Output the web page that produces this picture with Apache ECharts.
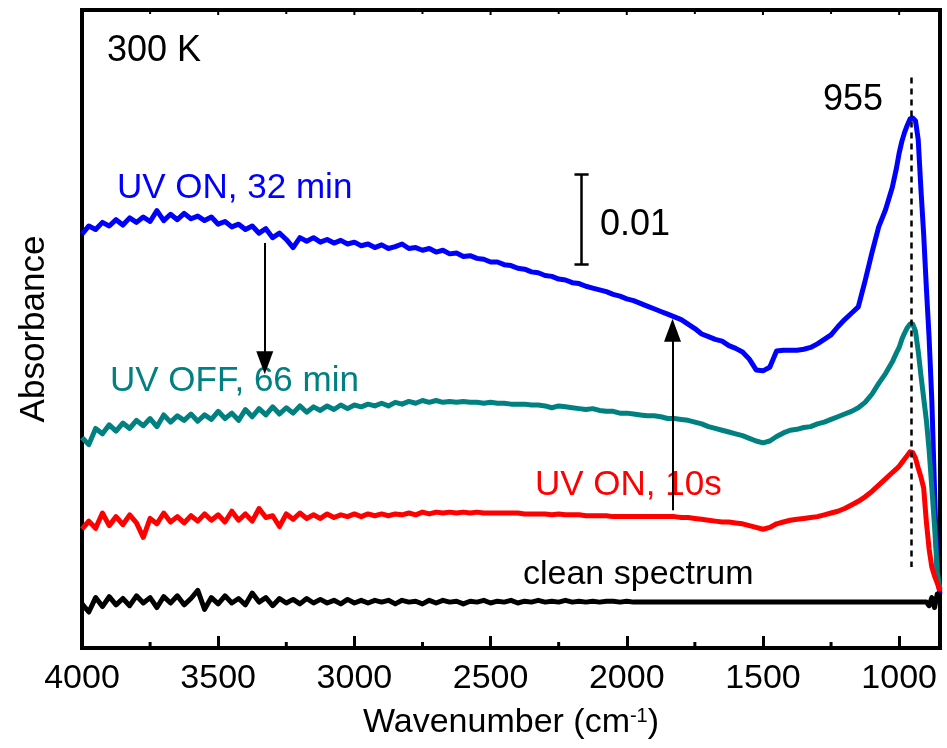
<!DOCTYPE html>
<html>
<head>
<meta charset="utf-8">
<script src="https://cdn.jsdelivr.net/npm/echarts@6/dist/echarts.min.js"></script>
<style>
  html, body { margin: 0; padding: 0; background: #fff; }
  #chart { width: 947px; height: 748px; }
</style>
</head>
<body>
<div id="chart"></div>
<script>
// wavenumber grid (cm-1), dense near the 955 peak
var wavenumber = [
  4000, 3975, 3950, 3925, 3900, 3875, 3850, 3825, 3800, 3775,
  3750, 3725, 3700, 3675, 3650, 3625, 3600, 3575, 3550, 3525,
  3500, 3475, 3450, 3425, 3400, 3375, 3350, 3325, 3300, 3275,
  3250, 3225, 3200, 3175, 3150, 3125, 3100, 3075, 3050, 3025,
  3000, 2975, 2950, 2925, 2900, 2875, 2850, 2825, 2800, 2775,
  2750, 2725, 2700, 2675, 2650, 2625, 2600, 2575, 2550, 2525,
  2500, 2475, 2450, 2425, 2400, 2375, 2350, 2325, 2300, 2275,
  2250, 2225, 2200, 2175, 2150, 2125, 2100, 2075, 2050, 2025,
  2000,
  1975, 1950, 1925, 1900, 1875, 1850, 1825, 1800, 1775, 1750,
  1725, 1700, 1675, 1650, 1625, 1600, 1575, 1550, 1525, 1500,
  1475, 1450, 1425, 1400, 1375, 1350, 1325, 1300, 1275, 1250,
  1225, 1200, 1175, 1150, 1125, 1100, 1075, 1050, 1025,
  1010, 1000, 990, 980, 970, 960, 955, 950, 940, 930, 920, 910, 900, 890, 880, 870, 860, 850
];

// absorbance in units of 0.001 (offset traces as plotted)
var uvOn32 = [
  46.0, 46.9, 46.5, 47.3, 46.9, 47.6, 47.0, 47.8, 47.3, 47.9,
  47.4, 48.6, 47.5, 48.2, 47.6, 48.3, 47.7, 48.0, 47.5, 47.9,
  47.1, 47.4, 46.8, 47.1, 46.5, 46.9, 46.1, 46.6, 45.6, 46.1,
  45.4, 44.5, 45.6, 45.2, 45.6, 45.1, 45.4, 45.0, 45.3, 44.9,
  45.1, 44.7, 44.9, 44.5, 44.8, 44.4, 44.6, 44.9, 44.4, 44.5,
  44.2, 44.4, 44.0, 44.2, 43.8, 43.9, 43.5, 43.6, 43.3, 43.2,
  42.9, 42.9, 42.6, 42.5, 42.2, 42.1, 41.8, 41.7, 41.4, 41.3,
  41.0, 40.9, 40.6, 40.5, 40.2, 40.0, 39.8, 39.6, 39.3, 39.1,
  38.8,
  38.6, 38.3, 38.0, 37.7, 37.4, 37.1, 36.8, 36.5, 36.0, 35.5,
  34.9, 34.6, 34.3, 34.1, 33.6, 33.3, 32.9, 32.1, 30.9, 30.8,
  31.2, 33.0, 33.1, 33.1, 33.1, 33.2, 33.4, 33.8, 34.3, 34.8,
  35.7, 36.5, 37.2, 37.9, 40.8, 43.9, 46.8, 48.7, 51.2,
  53.3, 55.0, 56.3, 57.3, 58.1, 58.8, 59.0, 58.9, 58.6, 56.5, 51.0, 46.0, 40.0, 34.5, 27.5, 17.5, 8.0, 6.0
];

var uvOff66 = [
  23.4, 22.6, 24.4, 23.8, 24.8, 24.1, 25.0, 24.4, 25.3, 24.7,
  25.5, 24.6, 25.9, 25.1, 25.8, 25.3, 26.0, 25.2, 25.9, 25.4,
  26.3, 25.5, 26.1, 25.3, 26.5, 25.7, 26.6, 25.9, 26.8, 26.0,
  26.7, 26.1, 26.9, 26.2, 26.8, 26.4, 26.9, 26.5, 27.0, 26.6,
  27.0, 26.8, 27.1, 26.9, 27.2, 26.9, 27.3, 27.1, 27.4, 27.2,
  27.5, 27.3, 27.5, 27.3, 27.4, 27.3, 27.4, 27.3, 27.3, 27.2,
  27.3, 27.2, 27.2, 27.1, 27.1, 27.1, 27.0, 27.0, 26.9, 26.7,
  26.9, 26.8, 26.7, 26.6, 26.5, 26.6, 26.4, 26.3, 26.3, 26.1,
  26.1,
  26.0, 25.9, 25.8, 25.8, 25.7, 25.5, 25.5, 25.4, 25.3, 25.1,
  24.9, 24.6, 24.4, 24.2, 24.0, 23.8, 23.6, 23.3, 23.0, 22.8,
  23.0, 23.5, 23.9, 24.2, 24.3, 24.5, 24.6, 24.9, 25.1, 25.4,
  25.7, 26.0, 26.3, 26.7, 27.3, 28.2, 29.4, 30.5, 31.8,
  32.8, 33.4, 34.3, 35.0, 35.6, 36.0, 36.1, 36.0, 35.2, 33.0, 30.3, 27.8, 25.3, 22.0, 17.8, 13.5, 8.5, 6.5
];

var uvOn10s = [
  13.2, 14.1, 13.3, 15.0, 13.6, 14.6, 13.7, 14.8, 13.9, 12.3,
  14.4, 13.8, 15.0, 14.0, 14.6, 13.9, 14.7, 14.1, 14.9, 14.2,
  14.8, 14.0, 15.2, 14.2, 14.9, 14.1, 15.5, 14.5, 14.7, 13.5,
  14.9, 14.3, 15.0, 14.4, 14.8, 14.4, 14.9, 14.5, 14.8, 14.6,
  14.9, 14.6, 14.9, 14.7, 14.9, 14.7, 14.9, 14.8, 15.0, 14.8,
  15.1, 14.9, 15.1, 15.0, 15.1, 15.0, 15.1, 15.0, 15.1, 15.0,
  15.0, 15.0, 15.0, 15.0, 15.0, 14.9, 14.9, 14.9, 14.9, 14.8,
  14.9, 14.8, 14.8, 14.8, 14.7, 14.7, 14.7, 14.7, 14.6, 14.6,
  14.6,
  14.6, 14.6, 14.6, 14.6, 14.6, 14.6, 14.6, 14.5, 14.5, 14.4,
  14.3, 14.2, 14.1, 14.0, 14.0, 13.9, 13.8, 13.6, 13.4, 13.2,
  13.4, 13.8, 14.0, 14.2, 14.3, 14.4, 14.5, 14.6, 14.8, 15.0,
  15.2, 15.5, 15.9, 16.3, 16.8, 17.4, 18.1, 18.8, 19.5,
  19.9, 20.2, 20.6, 21.0, 21.4, 21.8, 21.9, 21.7, 21.1, 20.0, 19.0, 17.8, 14.0, 11.0, 9.0, 8.0, 7.2, 6.3
];

var clean = [
  4.9, 4.0, 5.6, 4.6, 5.7, 4.8, 5.5, 4.7, 5.8, 5.0,
  5.6, 4.5, 5.7, 5.0, 5.8, 4.8, 5.5, 6.4, 4.3, 5.6,
  4.9, 5.8, 5.0, 5.5, 4.8, 6.1, 5.1, 5.6, 4.7, 5.5,
  5.0, 5.4, 4.9, 5.5, 5.0, 5.4, 5.0, 5.3, 4.9, 5.4,
  5.0, 5.3, 5.0, 5.3, 5.1, 5.3, 4.9, 5.3, 5.1, 5.2,
  4.9, 5.3, 5.0, 5.3, 5.1, 5.2, 4.9, 5.2, 5.1, 5.3,
  5.0, 5.2, 5.1, 5.3, 5.0, 5.2, 5.1, 5.3, 5.1, 5.2,
  5.1, 5.3, 5.1, 5.2, 5.1, 5.2, 5.1, 5.2, 5.2, 5.1,
  5.2,
  5.1, 5.1, 5.1, 5.1, 5.1, 5.1, 5.1, 5.1, 5.1, 5.1,
  5.1, 5.1, 5.1, 5.1, 5.1, 5.1, 5.1, 5.1, 5.1, 5.1,
  5.1, 5.1, 5.1, 5.1, 5.1, 5.1, 5.1, 5.1, 5.1, 5.1,
  5.1, 5.1, 5.1, 5.1, 5.1, 5.1, 5.1, 5.1, 5.1,
  5.1, 5.1, 5.1, 5.1, 5.1, 5.1, 5.1, 5.1, 5.1, 5.1, 5.1, 5.1, 5.1, 4.7, 5.6, 4.5, 6.0, 5.4
];

var majorTicks = [4000, 3500, 3000, 2500, 2000, 1500, 1000];
var minorTicks = [3750, 3250, 2750, 2250, 1750, 1250];

var yMax = 70.9;
var peakPos = 955;
var scaleBar = 10; // 0.01 absorbance

var FONT = "'Liberation Sans', Arial, sans-serif";

function pairs(values) {
    return wavenumber.map(function (w, i) { return [w, values[i]]; });
}

var myChart = echarts.init(document.getElementById('chart'));

function lineSeries(name, values, color) {
    return {
        name: name,
        type: 'line',
        data: pairs(values),
        showSymbol: false,
        symbol: 'none',
        silent: true,
        animation: false,
        lineStyle: { color: color, width: 5, join: 'round' },
        z: 3
    };
}

var solid = function (w) { return { color: '#000', width: w, type: 'solid' }; };

var black = lineSeries('clean spectrum', clean, '#000000');
black.markLine = {
    silent: true,
    animation: false,
    symbol: 'none',
    label: { show: false },
    data: [
        // dashed marker at 955
        [{ coord: [peakPos, 63.4], lineStyle: { color: '#000', width: 2.5, type: [6, 5] } },
         { coord: [peakPos, 9.0] }],
        // down arrow
        [{ coord: [3329, 45.0], symbol: 'none', lineStyle: solid(2) },
         { coord: [3329, 31.7], symbol: 'triangle', symbolSize: [17, 23] }],
        // up arrow
        [{ coord: [1832, 15.3], symbol: 'none', lineStyle: solid(2) },
         { coord: [1832, 35.3], symbol: 'triangle', symbolSize: [17, 23] }],
        // scale bar
        [{ coord: [2166, 42.6], lineStyle: solid(2.5) }, { coord: [2166, 42.6 + scaleBar] }],
        [{ coord: [2192, 42.6 + scaleBar], lineStyle: solid(2.5) }, { coord: [2140, 42.6 + scaleBar] }],
        [{ coord: [2192, 42.6], lineStyle: solid(2.5) }, { coord: [2140, 42.6] }]
    ]
};

function note(text, x, y, color, size) {
    return {
        type: 'text',
        x: x,
        y: y,
        silent: true,
        style: {
            text: text,
            fill: color,
            font: size + 'px ' + FONT,
            textAlign: 'left',
            textVerticalAlign: 'middle',
            align: 'left',
            verticalAlign: 'middle'
        }
    };
}

var notes = [
    note('300 K', 107, 51, '#000', 36),
    note('UV ON, 32 min', 117, 188, '#0000ff', 35),
    note('UV OFF, 66 min', 110, 381, '#008080', 35),
    note('UV ON, 10s', 535, 485, '#ff0000', 35),
    note('clean spectrum', 523, 575, '#000', 34),
    note('955', 823, 100, '#000', 36),
    note('0.01', 600, 225, '#000', 36)
];

var option = {
    animation: false,
    backgroundColor: '#ffffff',
    grid: {
        left: 82, right: 7, top: 10, bottom: 100,
        show: true,
        borderColor: '#000',
        borderWidth: 4,
        backgroundColor: 'transparent',
        containLabel: false,
        outerBoundsMode: 'none'
    },
    xAxis: {
        type: 'value', min: 850, max: 4000, inverse: true, position: 'bottom',
        splitLine: { show: false },
        axisLine: { show: true, onZero: false, lineStyle: { color: '#000', width: 4 } },
        axisTick: { show: true, inside: true, length: 12, customValues: majorTicks,
                    lineStyle: { color: '#000', width: 3 } },
        axisLabel: { show: true, customValues: majorTicks, margin: 14, color: '#000',
                     fontSize: 34, fontFamily: FONT,
                     formatter: function (v) { return String(v); } },
        name: 'Wavenumber (cm{sup|-1})',
        nameLocation: 'middle',
        nameGap: 58,
        nameTextStyle: {
            color: '#000', fontSize: 34, fontFamily: FONT,
            rich: { sup: { fontSize: 20, verticalAlign: 'top', color: '#000', fontFamily: FONT } }
        }
    },
    yAxis: {
        type: 'value', min: 0, max: yMax, position: 'left',
        splitLine: { show: false },
        axisLine: { show: true, onZero: false, lineStyle: { color: '#000', width: 4 } },
        axisTick: { show: false },
        axisLabel: { show: false },
        name: 'Absorbance',
        nameLocation: 'middle',
        nameGap: 30,
        nameTextStyle: { color: '#000', fontSize: 35, fontFamily: FONT }
    },
    series: [
        lineSeries('UV ON, 32 min', uvOn32, '#0000ff'),
        lineSeries('UV OFF, 66 min', uvOff66, '#008080'),
        lineSeries('UV ON, 10s', uvOn10s, '#ff0000'),
        black
    ],
    graphic: notes
};

myChart.setOption(option);

// minor ticks on the bottom edge and short ticks on the top edge, placed through the axis scale
function tickMark(value, bottomLen, topLen) {
    var b = myChart.convertToPixel({ gridIndex: 0 }, [value, 0]);
    var t = myChart.convertToPixel({ gridIndex: 0 }, [value, yMax]);
    var out = [];
    if (bottomLen > 0) {
        out.push({ type: 'line', z: 100, silent: true,
                   shape: { x1: b[0], y1: b[1], x2: b[0], y2: b[1] - bottomLen },
                   style: { stroke: '#000', lineWidth: 3 } });
    }
    out.push({ type: 'line', z: 100, silent: true,
               shape: { x1: t[0], y1: t[1], x2: t[0], y2: t[1] + topLen },
               style: { stroke: '#000', lineWidth: 2 } });
    return out;
}
var ticks = [];
majorTicks.forEach(function (v) { ticks = ticks.concat(tickMark(v, 0, 5)); });
minorTicks.forEach(function (v) { ticks = ticks.concat(tickMark(v, 6, 4)); });
myChart.setOption({ graphic: notes.concat(ticks) });
</script>
</body>
</html>
